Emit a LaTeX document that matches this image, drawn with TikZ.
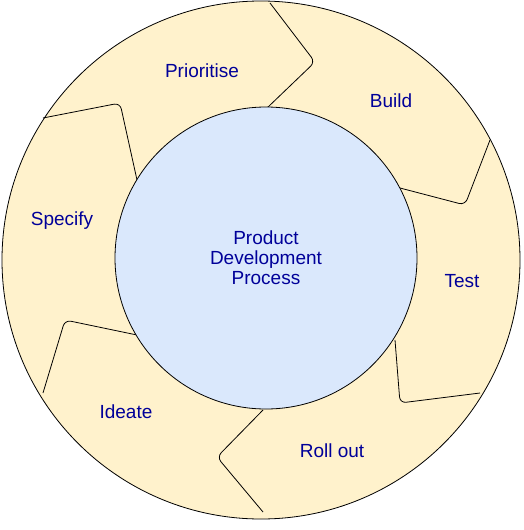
\documentclass[tikz,border=0pt]{standalone}
\usepackage{fontspec}
\setmainfont{Liberation Sans}
\usepackage{tikz}
\usetikzlibrary{positioning}
\definecolor{ringfill}{HTML}{FFF2CC}
\definecolor{corefill}{HTML}{DAE8FC}
\definecolor{labelblue}{HTML}{000099}

\begin{document}
\begin{tikzpicture}[x=1pt, y=-1pt,
        ring/.style={circle, draw, thick, fill=ringfill, minimum size=518pt, inner sep=0pt},
        core/.style={circle, draw, thick, fill=corefill, minimum size=302pt, inner sep=0pt, align=center},
        phase/.style={font=\fontsize{19}{23}\selectfont, text=labelblue},
        divider/.style={draw, thick, rounded corners=6pt}
    ]
    \useasboundingbox (0,0) rectangle (524,530);

    % ring
    \node[ring] (outer) at (261,260) {};

    % dividers
    \path[divider] (267,108) -- (315,62) -- (270,3);
    \path[divider] (400,188) -- (465,205) -- (490,140);
    \path[divider] (395,340) -- (400,403) -- (480,393);
    \path[divider] (263,410) -- (217,457) -- (263,512);
    \path[divider] (137,335) -- (65,320) -- (43,393);
    \path[divider] (137,180) -- (120,103) -- (43,118);

    % centre
    \node[core, phase] (hub) at (266,258) {Product\\[-3pt]Development\\[-3pt]Process};

    % phases
    \node[phase] (prioritise) at (202,71) {Prioritise};
    \node[phase] (build) at (391,101) {Build};
    \node[phase] (test) at (462,281) {Test};
    \node[phase] (rollout) at (332,451) {Roll out};
    \node[phase] (ideate) at (126,412) {Ideate};
    \node[phase] (specify) at (62,221) {Specify};

\end{tikzpicture}
\end{document}
